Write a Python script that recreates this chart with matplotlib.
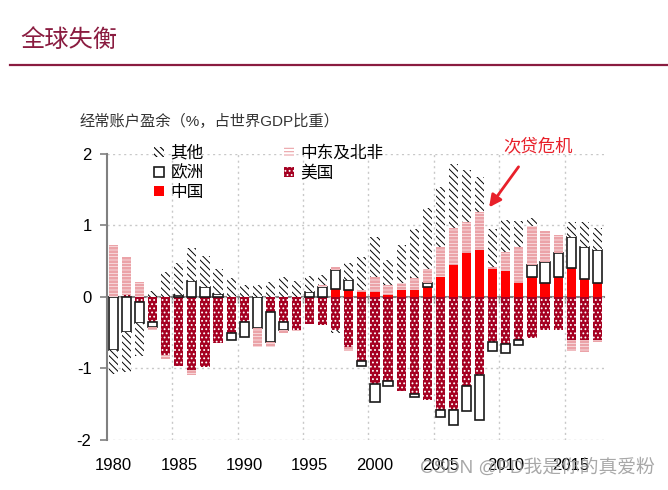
import matplotlib.pyplot as plt
import numpy as np

plt.rcParams['font.family'] = ['Liberation Sans', 'Noto Sans CJK SC', 'DejaVu Sans']
plt.rcParams['axes.unicode_minus'] = False
plt.rcParams['hatch.linewidth'] = 0.8

years = np.arange(1980, 2018)

china = [0, 0, 0, 0, 0, 0, 0, 0, 0, 0, 0, 0, 0, 0, 0, 0, 0, 0.11, 0.10, 0.06,
         0.06, 0.03, 0.09, 0.10, 0.14, 0.27, 0.44, 0.61, 0.66, 0.39,
         0.36, 0.19, 0.28, 0.19, 0.28, 0.40, 0.25, 0.19]
usa = [0.0, 0.03, -0.07, -0.35, -0.81, -0.97, -1.02, -0.98, -0.65, -0.51,
       -0.35, 0.0, -0.22, -0.35, -0.46, -0.38, -0.40, -0.46, -0.70, -0.90,
       -1.22, -1.18, -1.32, -1.36, -1.45, -1.58, -1.58, -1.25, -1.10, -0.63,
       -0.66, -0.61, -0.58, -0.46, -0.47, -0.60, -0.61, -0.60]
europe = [-0.74, -0.50, -0.30, -0.08, 0.0, 0.03, 0.22, 0.13, 0.04, -0.09,
          -0.21, -0.44, -0.42, -0.11, 0.0, 0.07, 0.14, 0.26, 0.13, -0.07,
          -0.25, -0.07, 0.0, -0.04, 0.05, -0.10, -0.21, -0.35, -0.62, -0.13,
          -0.13, -0.07, 0.17, 0.30, 0.33, 0.44, 0.44, 0.46]
mena = [0.72, 0.52, 0.21, -0.03, -0.06, 0.0, -0.08, 0.0, 0.0, 0.0,
        0.0, -0.27, -0.07, -0.05, -0.02, 0.0, 0.02, 0.04, -0.06, 0.03,
        0.21, 0.13, 0.10, 0.16, 0.20, 0.42, 0.52, 0.43, 0.52, 0.03,
        0.26, 0.51, 0.54, 0.43, 0.26, -0.16, -0.16, -0.04]
others = [-0.34, -0.55, -0.46, 0.08, 0.34, 0.44, 0.46, 0.44, 0.35, 0.26,
          0.16, 0.16, 0.21, 0.27, 0.22, 0.22, 0.14, -0.05, 0.24, 0.46,
          0.57, 0.36, 0.53, 0.69, 0.85, 0.84, 0.90, 0.74, 0.49, 0.53,
          0.46, 0.36, 0.11, 0.0, 0.0, 0.20, 0.35, 0.31]

maroon = '#8a1c40'
styles = [
    dict(label='中国', color='#ff0000', linewidth=0),
    dict(label='美国', facecolor='#a50021', edgecolor='white', hatch='....', linewidth=0),
    dict(label='欧洲', facecolor='white', edgecolor='#1a1a1a', linewidth=1.2),
    dict(label='中东及北非', facecolor='white', edgecolor='#eba3a8', hatch='-----', linewidth=0),
    dict(label='其他', facecolor='white', edgecolor='black', hatch='\\\\\\\\\\', linewidth=0),
]
hatch_lw = [0.8, 0.8, 0.8, 2.0, 0.7]

fig = plt.figure(figsize=(6.68, 4.90), dpi=100)
ax = fig.add_axes([0.160, 0.103, 0.744, 0.583])

pos_base = np.zeros(len(years))
neg_base = np.zeros(len(years))
handles = []
for vals, st, hl in zip([china, usa, europe, mena, others], styles, hatch_lw):
    v = np.array(vals, dtype=float)
    base = np.where(v >= 0, pos_base, neg_base)
    keep = v != 0
    plt.rcParams['hatch.linewidth'] = hl
    bars = ax.bar(years[keep], v[keep], 0.7, bottom=base[keep], zorder=2, **st)
    for p in bars:
        if hasattr(p, 'set_hatch_linewidth'):
            p.set_hatch_linewidth(hl)
    handles.append(bars)
    pos_base += np.clip(v, 0, None)
    neg_base += np.clip(v, None, 0)
plt.rcParams['hatch.linewidth'] = 0.8

ax.set_xlim(1979.5, 2017.5)
ax.set_ylim(-2, 2)
ax.set_yticks([-2, -1, 0, 1, 2])
ax.set_xticks(np.arange(1980, 2016, 5))
ax.set_xticks(np.arange(1984.5, 2015, 5), minor=True)
ax.tick_params(axis='x', which='both', length=0, pad=13, labelsize=12)
ax.tick_params(axis='y', length=5, width=1.2, color='#808080', labelsize=12, pad=6)
ax.grid(axis='y', linestyle=(0, (1.5, 2.5)), color='#c8c8c8', linewidth=1)
ax.grid(axis='x', which='minor', linestyle=(0, (1.5, 2.5)), color='#c8c8c8', linewidth=1)
ax.set_axisbelow(True)
for s in ['top', 'right', 'bottom']:
    ax.spines[s].set_visible(False)
ax.spines['left'].set_color('#808080')
ax.spines['left'].set_linewidth(1.5)

sec = ax.secondary_xaxis(0.5)
sec.set_alignment('bottom')
sec.set_xticks(np.arange(1984.5, 2015, 5))
sec.tick_params(length=4, width=1, color='#808080', labelbottom=False, labeltop=False)
sec.spines['bottom'].set_color('#808080')
sec.spines['bottom'].set_linewidth(1.5)

order = [4, 2, 0, 3, 1]
ax.legend([handles[i] for i in order], [styles[i]['label'] for i in order],
          ncol=2, loc='upper left', bbox_to_anchor=(0.095, 1.03),
          frameon=False, fontsize=12, handlelength=0.6, handleheight=0.6,
          handletextpad=0.4, columnspacing=4.8, labelspacing=0.25,
          borderpad=0, borderaxespad=0)

ax.annotate('', xy=(2008.6, 1.22), xytext=(2011.1, 1.85),
            arrowprops=dict(arrowstyle='-|>', color='#e8202a', lw=2, mutation_scale=18),
            annotation_clip=False)
ax.text(2012.5, 2.12, '次贷危机', color='#e8202a', fontsize=12.5,
        ha='center', va='center', clip_on=False)

fig.text(20 / 668, 1 - 41 / 490, '全球失衡', fontsize=17.5, color=maroon, va='center')
fig.add_artist(plt.Line2D([10 / 668, 1], [1 - 65 / 490] * 2, color=maroon, linewidth=1.6))
fig.text(80 / 668, 1 - 121 / 490, '经常账户盈余（%，占世界GDP比重）', fontsize=11,
         color='#333333', va='center')
fig.text(655 / 668, 1 - 468 / 490, 'CSDN @PD我是你的真爱粉', fontsize=13.5,
         color='#999999', alpha=0.85, ha='right', va='center')

fig.savefig('out.png', dpi=100)
